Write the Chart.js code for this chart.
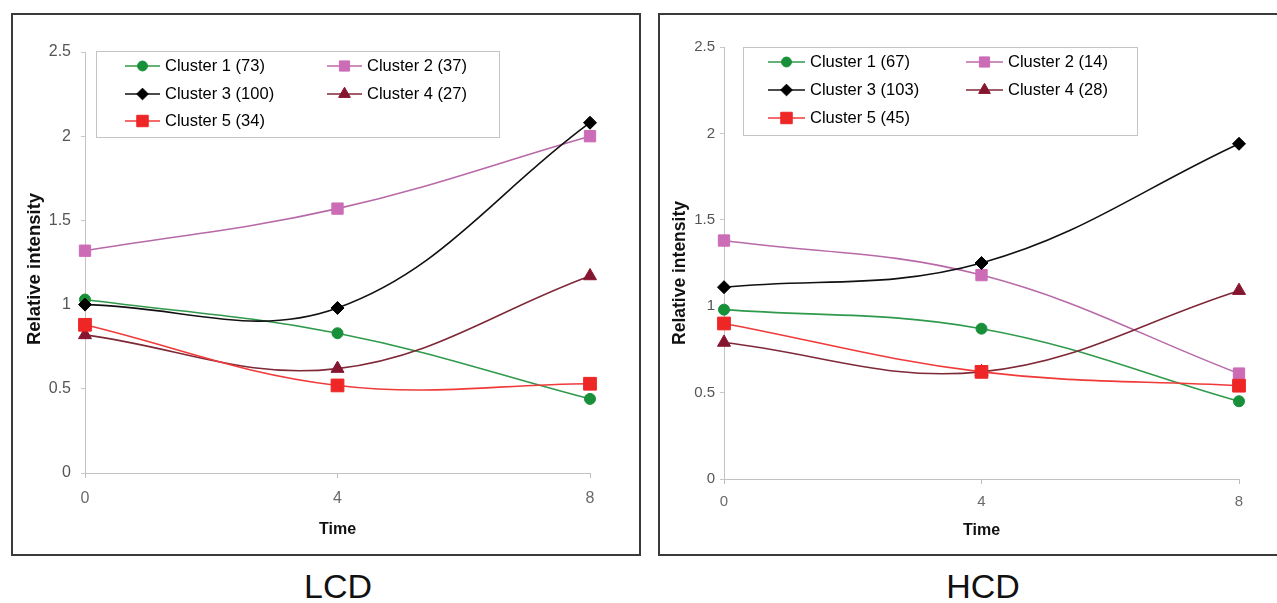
<!DOCTYPE html>
<html lang="en">
<head>
<meta charset="UTF-8">
<title>Relative intensity of clusters - LCD / HCD</title>
<script src="https://cdn.jsdelivr.net/npm/chart.js"></script>
<style>
    body {
        margin: 0;
        width: 1277px;
        height: 603px;
        overflow: hidden;
        position: relative;
        background: #fff;
        font-family: "Liberation Sans", Arial, sans-serif;
    }
    .panel {
        position: absolute;
        border: 2px solid #3a3a3a;
        box-sizing: border-box;
        background: #fff;
    }
    #lcdPanel { left: 11px; top: 13px; width: 630px; height: 543px; }
    #hcdPanel { left: 658px; top: 13px; width: 640px; height: 543px; }
    .panel div { position: relative; width: 100%; height: 100%; }
    .caption {
        position: absolute;
        top: 569px;
        width: 200px;
        text-align: center;
        font-size: 34px;
        line-height: 34px;
        color: #111;
    }
</style>
</head>
<body>
<div class="panel" id="lcdPanel"><div><canvas id="lcdChart"></canvas></div></div>
<div class="panel" id="hcdPanel"><div><canvas id="hcdChart"></canvas></div></div>
<div class="caption" style="left:238px">LCD</div>
<div class="caption" style="left:883px">HCD</div>

<script>
    // time points (x axis)
    const timeLabels = ['0', '4', '8'];

    // LCD panel
    const lcdLabels = ['Cluster 1 (73)', 'Cluster 2 (37)', 'Cluster 3 (100)', 'Cluster 4 (27)', 'Cluster 5 (34)'];
    const lcdC1 = [1.03, 0.83, 0.44];
    const lcdC2 = [1.32, 1.57, 2.00];
    const lcdC3 = [1.00, 0.98, 2.08];
    const lcdC4 = [0.82, 0.62, 1.17];
    const lcdC5 = [0.88, 0.52, 0.53];

    // HCD panel
    const hcdLabels = ['Cluster 1 (67)', 'Cluster 2 (14)', 'Cluster 3 (103)', 'Cluster 4 (28)', 'Cluster 5 (45)'];
    const hcdC1 = [0.98, 0.87, 0.45];
    const hcdC2 = [1.38, 1.18, 0.61];
    const hcdC3 = [1.11, 1.25, 1.94];
    const hcdC4 = [0.79, 0.62, 1.09];
    const hcdC5 = [0.90, 0.62, 0.54];

    const yMin = 0, yMax = 2.5, yStep = 0.5;
    const yTitle = 'Relative intensity';

    const seriesStyle = [
        { line: '#2f9a4c', fill: '#18903a', shape: 'circle', r: 5.5 },
        { line: '#b86aa8', fill: '#cc6cb6', shape: 'rect', r: 8 },
        { line: '#111111', fill: '#000000', shape: 'rectRot', r: 6.5 },
        { line: '#7e2838', fill: '#86152f', shape: 'triangle', r: 7.5 },
        { line: '#f03a3a', fill: '#ee2626', shape: 'rect', r: 9 }
    ];

    const FONT = '"Liberation Sans", Arial, sans-serif';

    // legend drawn inside the plot, like the spreadsheet chart
    const insideLegend = {
        id: 'insideLegend',
        afterDraw(chart, args, opts) {
            const ctx = chart.ctx;
            ctx.save();
            ctx.fillStyle = '#fff';
            ctx.fillRect(opts.x, opts.y, opts.w, opts.h);
            ctx.strokeStyle = '#c4c4c4';
            ctx.lineWidth = 1;
            ctx.strokeRect(opts.x + 0.5, opts.y + 0.5, opts.w, opts.h);
            ctx.font = '16.5px ' + FONT;
            ctx.textBaseline = 'middle';
            chart.data.datasets.forEach((ds, i) => {
                const x0 = opts.cols[i % 2];
                const y = opts.rows[Math.floor(i / 2)];
                ctx.strokeStyle = ds.borderColor;
                ctx.lineWidth = 1.5;
                ctx.beginPath();
                ctx.moveTo(x0, y);
                ctx.lineTo(x0 + opts.lineLen, y);
                ctx.stroke();
                ctx.fillStyle = ds.pointBackgroundColor;
                ctx.strokeStyle = ds.pointBorderColor;
                ctx.lineWidth = 1;
                Chart.helpers.drawPoint(ctx, { pointStyle: ds.pointStyle, radius: ds.pointRadius * 0.9, borderWidth: 1, rotation: 0 }, x0 + opts.lineLen / 2, y);
                ctx.fillStyle = '#000';
                ctx.fillText(ds.label, x0 + opts.lineLen + 5, y);
            });
            ctx.restore();
        }
    };

    // rotated y axis title, placed where the original has it
    const sideTitle = {
        id: 'sideTitle',
        afterDraw(chart, args, opts) {
            const ctx = chart.ctx;
            ctx.save();
            ctx.translate(opts.x, opts.y);
            ctx.rotate(-Math.PI / 2);
            ctx.font = 'bold ' + opts.size + 'px ' + FONT;
            ctx.fillStyle = '#111';
            ctx.textAlign = 'center';
            ctx.textBaseline = 'middle';
            ctx.fillText(opts.text, 0, 0);
            ctx.restore();
        }
    };

    function makeChart(id, labels, series, cfg) {
        const datasets = series.map((data, i) => ({
            label: labels[i],
            data: data,
            borderColor: seriesStyle[i].line,
            borderWidth: 1.6,
            pointBackgroundColor: seriesStyle[i].fill,
            pointBorderColor: seriesStyle[i].fill,
            pointBorderWidth: 1,
            pointStyle: seriesStyle[i].shape,
            pointRadius: seriesStyle[i].r,
            tension: 0.38,
            fill: false,
            order: -i
        }));

        new Chart(document.getElementById(id), {
            type: 'line',
            data: { labels: timeLabels, datasets: datasets },
            plugins: [insideLegend, sideTitle],
            options: {
                responsive: true,
                maintainAspectRatio: false,
                animation: false,
                layout: { padding: { top: cfg.top, right: cfg.right, left: 0, bottom: 0 } },
                plugins: {
                    legend: { display: false },
                    tooltip: { enabled: false },
                    insideLegend: cfg.legend,
                    sideTitle: { text: yTitle, x: cfg.yTitle.x, y: cfg.yTitle.y, size: cfg.yTitle.size }
                },
                scales: {
                    x: {
                        offset: false,
                        grid: { drawOnChartArea: false, drawTicks: true, tickLength: 5, color: '#bdbdbd' },
                        border: { color: '#c2c2c2', width: 1 },
                        ticks: { color: '#6a6a6a', font: { family: FONT, size: cfg.tickSize }, padding: cfg.xTickPad },
                        title: { display: true, text: 'Time', color: '#111', font: { family: FONT, size: 16, weight: 'bold' }, padding: { bottom: cfg.timePad } },
                        afterFit: s => { s.height = cfg.xHeight; }
                    },
                    y: {
                        min: yMin,
                        max: yMax,
                        grid: { drawOnChartArea: false, drawTicks: true, tickLength: 4, color: '#c8c8c8' },
                        border: { color: '#c2c2c2', width: 1 },
                        ticks: {
                            stepSize: yStep,
                            color: '#555',
                            font: { family: FONT, size: cfg.tickSize },
                            padding: cfg.yTickPad,
                            callback: v => String(v)
                        },
                        afterFit: s => { s.width = cfg.yWidth; }
                    }
                }
            }
        });
    }

    makeChart('lcdChart', lcdLabels, [lcdC1, lcdC2, lcdC3, lcdC4, lcdC5], {
        top: 37, right: 49, xHeight: 81, yWidth: 72, timePad: 15,
        tickSize: 16, yTickPad: 10, xTickPad: 11,
        yTitle: { x: 22, y: 254, size: 18.5 },
        legend: { x: 83, y: 36, w: 403, h: 86, cols: [112, 314], rows: [51, 79, 106], lineLen: 35 }
    });

    makeChart('hcdChart', hcdLabels, [hcdC1, hcdC2, hcdC3, hcdC4, hcdC5], {
        top: 32, right: 57, xHeight: 75, yWidth: 64, timePad: 14,
        tickSize: 15, yTickPad: 5, xTickPad: 9,
        yTitle: { x: 20, y: 258, size: 17.5 },
        legend: { x: 83, y: 32, w: 394, h: 88, cols: [108, 306], rows: [47, 75, 103], lineLen: 37 }
    });
</script>
</body>
</html>
